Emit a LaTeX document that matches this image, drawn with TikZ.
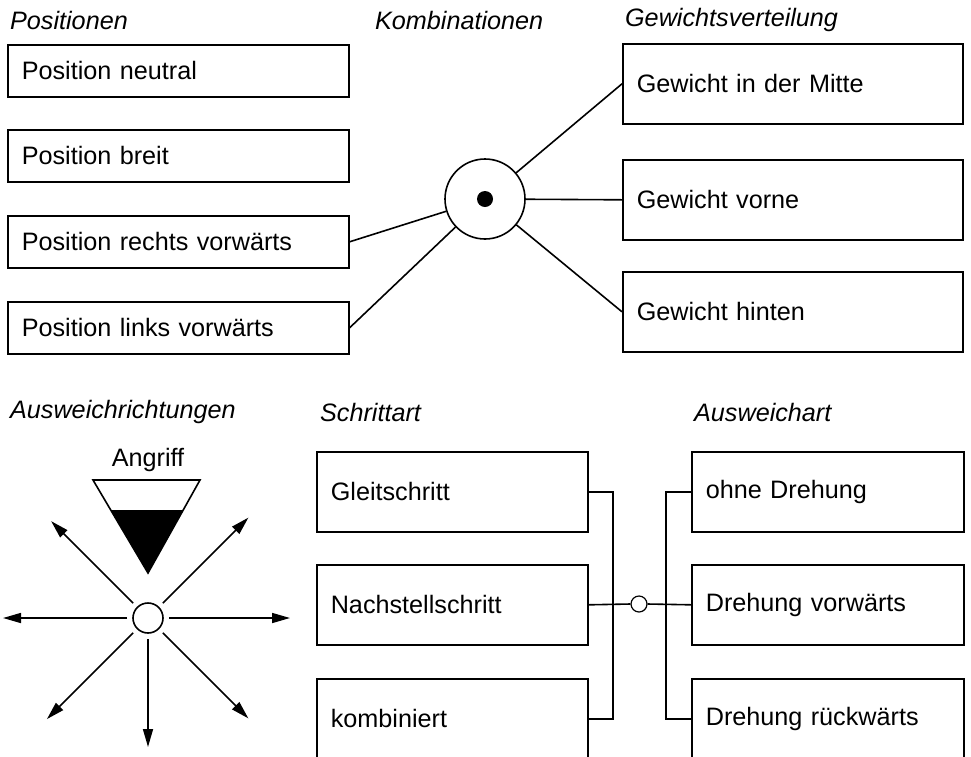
\documentclass[tikz,border=0pt]{standalone}
\usepackage{fontspec}
\setmainfont{Liberation Sans}[WordSpace=0.75]
\usetikzlibrary{arrows.meta}

\tikzset{
  box/.style={draw, rectangle, anchor=north west, inner xsep=14pt, inner ysep=0pt, align=left},
  posbox/.style={box, text width=313pt, minimum height=52pt},
  gewbox/.style={box, text width=312pt, minimum height=80pt},
  schrbox/.style={box, text width=243pt, minimum height=80pt},
  drehbox/.style={box, text width=244pt, minimum height=80pt},
  titel/.style={anchor=west, font=\fontsize{25.2}{30}\selectfont\itshape},
  pfeil/.style={-{Triangle[length=18pt,width=10pt]}},
}

\begin{document}
\begin{tikzpicture}[x=1pt,y=1pt,yscale=-1,line width=1.6pt,font=\fontsize{25.2}{30}\selectfont]
\clip (0,0) rectangle (971,756);

% Titles
\node[titel] (t1) at (6,20) {Positionen};
\node[titel] (t2) at (371,20) {Kombinationen};
\node[titel] (t3) at (621,20) {Gewichtsverteilung};
\node[titel] (t4) at (6,412) {Ausweichrichtungen};
\node[titel] (t5) at (316,412) {Schrittart};
\node[titel] (t6) at (690,412) {Ausweichart};

% Positionen
\node[posbox] (neutral) at (7,44) {Position neutral};
\node[posbox] (breit) at (7,129) {Position breit};
\node[posbox] (rechts) at (7,215) {Position rechts vorwärts};
\node[posbox] (links) at (7,301) {Position links vorwärts};

% Gewichtsverteilung
\node[gewbox] (mitte) at (622,43) {Gewicht in der Mitte};
\node[gewbox] (vorne) at (622,159) {Gewicht vorne};
\node[gewbox] (hinten) at (622,271) {Gewicht hinten};

% Kombinationen
\node[draw, circle, minimum size=80pt, inner sep=0pt] (komb) at (485,199) {};
\fill (komb) circle (8);

\draw (rechts.east) -- (komb);
\draw (links.east) -- (komb);
\draw (komb) -- (mitte.west);
\draw (komb) -- (vorne.west);
\draw (komb) -- (hinten.west);

% Schrittart
\node[schrbox] (gleit) at (316,451) {Gleitschritt};
\node[schrbox] (nachst) at (316,564) {Nachstellschritt};
\node[schrbox] (kombi) at (316,678) {kombiniert};

% Ausweichart
\node[drehbox] (ohne) at (691,451) {ohne Drehung};
\node[drehbox] (vorw) at (691,564) {Drehung vorwärts};
\node[drehbox] (rueckw) at (691,678) {Drehung rückwärts};

\node[draw, circle, minimum size=16pt, inner sep=0pt, line width=1.2pt] (wahl) at (639,604) {};
\coordinate (ls) at (613,604);
\coordinate (rs) at (666,604);

\draw (gleit.east) -- (gleit.east -| ls) |- (kombi.east);
\draw (ohne.west) -- (ohne.west -| rs) |- (rueckw.west);
\draw (nachst.east) -- (wahl.west);
\draw (wahl.east) -- (vorw.west);

% Ausweichrichtungen
\node (angriff) at (148,460) {Angriff};
\fill (110.7,510) -- (183.2,510) -- (148,573) -- cycle;
\draw[line join=miter] (93,480) -- (200,480) -- (148,573) -- cycle;

\node[draw, circle, minimum size=30pt, inner sep=0pt] (ziel) at (148,618) {};
\begin{scope}[shift={(ziel)}]
\foreach \w/\l in {0/142,45/142,90/129,135/143,180/145,225/137,315/142}
  \draw[pfeil] (\w:21) -- (\w:\l);
\end{scope}

\end{tikzpicture}
\end{document}
